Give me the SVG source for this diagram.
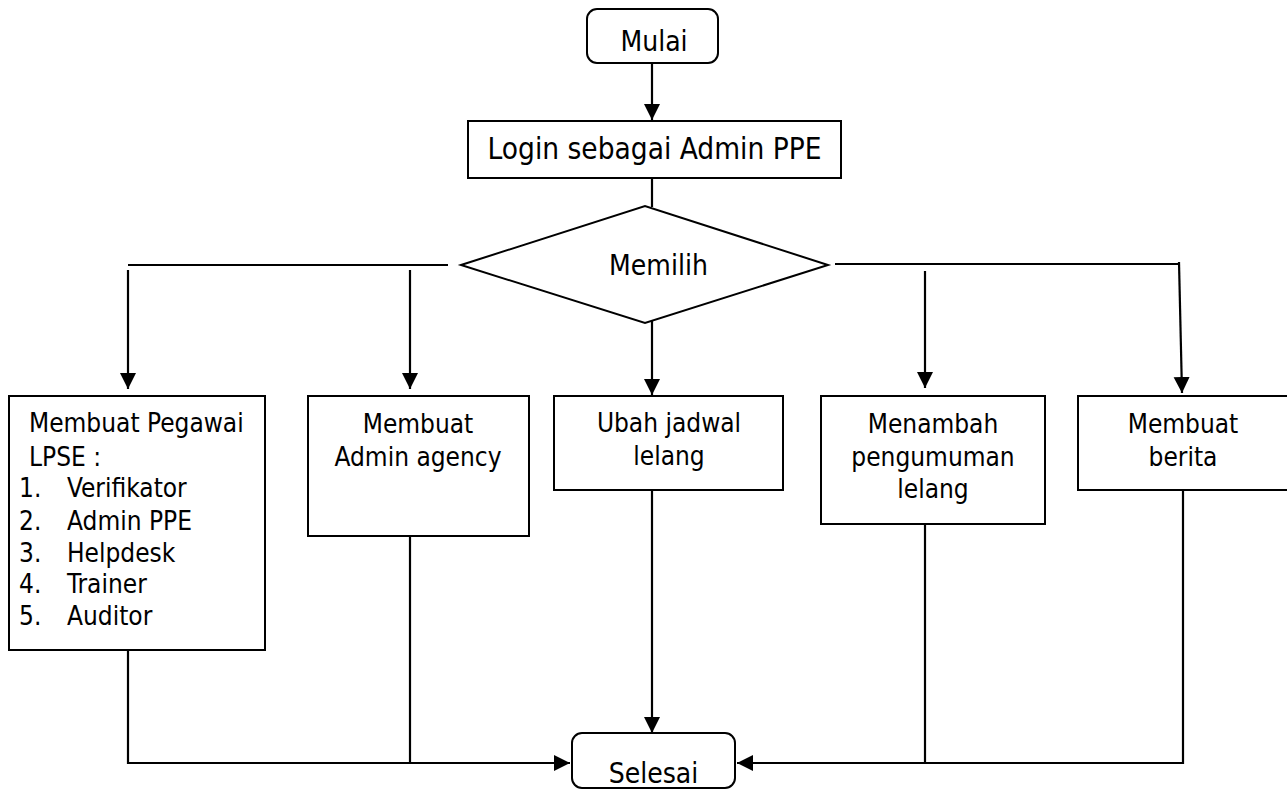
<svg xmlns="http://www.w3.org/2000/svg" width="1287" height="790" viewBox="0 0 1287 790">
  <style>
    .box { fill: #ffffff; stroke: #000000; stroke-width: 2; }
    .ln { fill: none; stroke: #000000; stroke-width: 2.2; }
    .t { font-family: 'DejaVu Sans Condensed', 'DejaVu Sans', sans-serif; font-stretch: condensed; font-size: 26px; fill: #000000; }
    .c { text-anchor: middle; }
    .big { font-size: 28px; }
    .title { font-size: 29.5px; }
  </style>
  <defs>
    <marker id="arrow" markerUnits="userSpaceOnUse" markerWidth="18" markerHeight="18" refX="16" refY="8" orient="auto">
      <path d="M0,0 L16,8 L0,16 z" fill="#000000"/>
    </marker>
  </defs>

  <rect width="1287" height="790" fill="#ffffff"/>

  <!-- connectors -->
  <g id="connectors">
    <line class="ln" x1="652" y1="63" x2="652" y2="120" marker-end="url(#arrow)"/>
    <line class="ln" x1="652" y1="178" x2="652" y2="207"/>
    <line class="ln" x1="128" y1="265" x2="448" y2="265"/>
    <line class="ln" x1="835" y1="264" x2="1179" y2="264"/>
    <line class="ln" x1="128" y1="270" x2="128" y2="389" marker-end="url(#arrow)"/>
    <line class="ln" x1="410" y1="270" x2="410" y2="389" marker-end="url(#arrow)"/>
    <line class="ln" x1="652" y1="319" x2="652" y2="395" marker-end="url(#arrow)"/>
    <line class="ln" x1="925" y1="271" x2="925" y2="388" marker-end="url(#arrow)"/>
    <line class="ln" x1="1179" y1="262" x2="1182" y2="393" marker-end="url(#arrow)"/>
    <polyline class="ln" points="128,650 128,763 570,763" marker-end="url(#arrow)"/>
    <line class="ln" x1="410" y1="536" x2="410" y2="763"/>
    <line class="ln" x1="652" y1="490" x2="652" y2="733" marker-end="url(#arrow)"/>
    <line class="ln" x1="925" y1="524" x2="925" y2="763"/>
    <polyline class="ln" points="1183,490 1183,763 737,763" marker-end="url(#arrow)"/>
  </g>

  <g id="mulai">
    <rect class="box" x="587" y="9" width="131" height="54" rx="10"/>
    <text class="t c big" x="654" y="51">Mulai</text>
  </g>

  <g id="login">
    <rect class="box" x="468" y="121" width="373" height="57"/>
    <text class="t c title" x="654.5" y="159">Login sebagai Admin PPE</text>
  </g>

  <g id="memilih">
    <polygon class="box" points="461,265 645,206 828,265 645,323"/>
    <text class="t c big" x="658.5" y="275">Memilih</text>
  </g>

  <g id="pegawai">
    <rect class="box" x="9" y="396" width="256" height="254"/>
    <text class="t" x="29" y="432">Membuat Pegawai</text>
    <text class="t" x="29" y="466">LPSE :</text>
    <text class="t" x="19" y="497">1.</text>
    <text class="t" x="67" y="497">Verifikator</text>
    <text class="t" x="19" y="530">2.</text>
    <text class="t" x="67" y="530">Admin PPE</text>
    <text class="t" x="19" y="562">3.</text>
    <text class="t" x="67" y="562">Helpdesk</text>
    <text class="t" x="19" y="593">4.</text>
    <text class="t" x="67" y="593">Trainer</text>
    <text class="t" x="19" y="625">5.</text>
    <text class="t" x="67" y="625">Auditor</text>
  </g>

  <g id="admin-agency">
    <rect class="box" x="308" y="396" width="221" height="140"/>
    <text class="t c" x="418" y="433">Membuat</text>
    <text class="t c" x="418" y="466">Admin agency</text>
  </g>

  <g id="ubah-jadwal">
    <rect class="box" x="554" y="396" width="229" height="94"/>
    <text class="t c" x="669" y="432">Ubah jadwal</text>
    <text class="t c" x="669" y="465">lelang</text>
  </g>

  <g id="pengumuman">
    <rect class="box" x="821" y="396" width="224" height="128"/>
    <text class="t c" x="933" y="433">Menambah</text>
    <text class="t c" x="933" y="466">pengumuman</text>
    <text class="t c" x="933" y="498">lelang</text>
  </g>

  <g id="berita">
    <rect class="box" x="1078" y="396" width="230" height="94"/>
    <text class="t c" x="1183" y="433">Membuat</text>
    <text class="t c" x="1183" y="466">berita</text>
  </g>

  <g id="selesai">
    <rect class="box" x="572" y="733" width="163" height="55" rx="10"/>
    <text class="t c big" x="653.5" y="783">Selesai</text>
  </g>
</svg>
